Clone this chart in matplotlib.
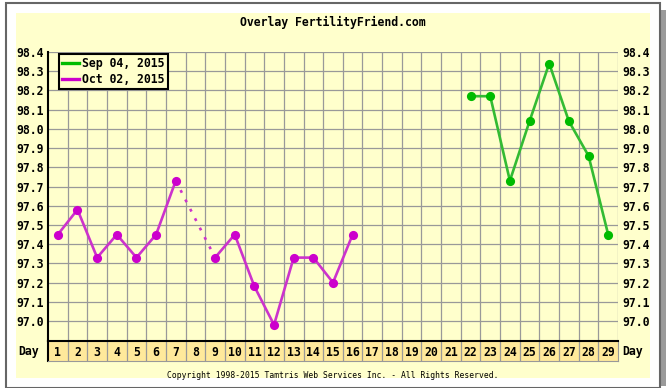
import numpy as np
import matplotlib
matplotlib.use("Agg")
import matplotlib.pyplot as plt
from matplotlib.lines import Line2D
from matplotlib.patches import Rectangle

days = list(range(1, 30))
sep04_days = [22, 23, 24, 25, 26, 27, 28, 29]
sep04_temps = [98.17, 98.17, 97.73, 98.04, 98.34, 98.04, 97.86, 97.45]
oct02_days = [1, 2, 3, 4, 5, 6, 7, 8, 9, 10, 11, 12, 13, 14, 15, 16]
oct02_temps = [97.45, 97.58, 97.33, 97.45, 97.33, 97.45, 97.73, np.nan, 97.33,
               97.45, 97.18, 96.98, 97.33, 97.33, 97.20, 97.45]
y_ticks = [97.0, 97.1, 97.2, 97.3, 97.4, 97.5, 97.6, 97.7, 97.8, 97.9, 98.0, 98.1, 98.2, 98.3, 98.4]
series_labels = ["Sep 04, 2015", "Oct 02, 2015"]
title = "Overlay FertilityFriend.com"
copyright_text = "Copyright 1998-2015 Tamtris Web Services Inc. - All Rights Reserved."

W, H = 667, 388
fig = plt.figure(figsize=(W / 100, H / 100), dpi=100)
fig.patch.set_facecolor("white")

def fx(px):
    return px / W

def fy(py):
    return 1 - py / H

# outer frame and background
fig.patches.append(Rectangle((fx(660), fy(386)), fx(6), fy(10) - fy(386),
                             transform=fig.transFigure, facecolor="#9a9a9a", edgecolor="none", zorder=-3))
fig.patches.append(Rectangle((fx(5.5), fy(388)), fx(660) - fx(5.5), fy(2.5) - fy(388),
                             transform=fig.transFigure, facecolor="white", edgecolor="#666666", lw=1.5, zorder=-2))
fig.patches.append(Rectangle((fx(16), fy(378)), fx(650) - fx(16), fy(13) - fy(378),
                             transform=fig.transFigure, facecolor="#FFFFCC", edgecolor="none", zorder=-1))

MONO = "DejaVu Sans Mono"
FS = 8.3
L, R, T, B = 48, 618, 52, 341
ax = fig.add_axes([fx(L), fy(B), fx(R) - fx(L), fy(T) - fy(B)])
ax.set_zorder(5)
ax.set_facecolor("#FFFFCC")
ax.set_xlim(0.5, 29.5)
ax.set_ylim(96.896, 98.4)
for d in days:
    ax.axvline(d + 0.5, color="#999999", lw=0.9, zorder=1)
for v in y_ticks:
    ax.axhline(v, color="#999999", lw=0.9, zorder=1)
ax.set_xticks([])
ax.set_yticks(y_ticks)
ax.set_yticklabels([f"{v:.1f}" for v in y_ticks], fontfamily=MONO, fontweight="bold", fontsize=FS)
ax.tick_params(axis="y", length=0, pad=3, labelright=True, labelleft=True)
for s in ["top", "right"]:
    ax.spines[s].set_visible(False)
ax.spines["left"].set_color("black")
ax.spines["left"].set_linewidth(1.5)
ax.spines["bottom"].set_color("black")
ax.spines["bottom"].set_linewidth(1.5)

def draw_series(ax, xs, ys, line_color, marker_color):
    xs = np.array(xs, float)
    ys = np.array(ys, float)
    ax.plot(xs, ys, color=line_color, lw=1.9, zorder=3, solid_capstyle="round")
    ok = ~np.isnan(ys)
    idx = np.where(ok)[0]
    for a, b in zip(idx[:-1], idx[1:]):
        if b - a > 1:
            ax.plot([xs[a], xs[b]], [ys[a], ys[b]], color=line_color, lw=1.9,
                    linestyle=(0, (1.1, 2.9)), zorder=3)
    ax.plot(xs[ok], ys[ok], linestyle="none", marker="o", ms=6.6, mew=0,
            color=marker_color, zorder=4)

draw_series(ax, sep04_days, sep04_temps, "#33BB33", "#00BB00")
draw_series(ax, oct02_days, oct02_temps, "#CC33CC", "#CC00CC")

handles = [Line2D([0], [0], color="#00BB00", lw=2.4),
           Line2D([0], [0], color="#CC00CC", lw=2.4)]
leg = ax.legend(handles, series_labels, loc="upper left", bbox_to_anchor=(0.019, 0.993),
                prop={"family": MONO, "weight": "bold", "size": FS},
                frameon=True, fancybox=False, framealpha=1, facecolor="#FFFFCC",
                edgecolor="black", handlelength=1.45, handletextpad=0.25,
                borderpad=0.3, labelspacing=0.2, borderaxespad=0)
leg.get_frame().set_linewidth(1.5)
leg.set_zorder(10)

# day row
dax = fig.add_axes([fx(L), fy(361), fx(R) - fx(L), fy(B) - fy(361)])
dax.set_zorder(4)
dax.set_facecolor("#FFE99B")
dax.set_xlim(0.5, 29.5)
dax.set_ylim(0, 1)
for d in days[:-1]:
    dax.axvline(d + 0.5, color="#999999", lw=0.9)
for d in days:
    dax.text(d, 0.45, str(d), ha="center", va="center", fontfamily=MONO,
             fontweight="bold", fontsize=FS)
dax.set_xticks([])
dax.set_yticks([])
dax.spines["top"].set_visible(False)
dax.spines["left"].set_color("black")
dax.spines["left"].set_linewidth(1.5)
dax.spines["bottom"].set_color("#999999")
dax.spines["right"].set_color("#999999")

fig.text(fx(18), fy(352), "Day", ha="left", va="center", fontfamily=MONO, fontweight="bold", fontsize=FS)
fig.text(fx(622), fy(352), "Day", ha="left", va="center", fontfamily=MONO, fontweight="bold", fontsize=FS)
fig.text(fx(333), fy(22), title, ha="center", va="center", fontfamily=MONO, fontweight="bold", fontsize=FS)
fig.text(fx(333), fy(375), copyright_text, ha="center", va="center", fontfamily=MONO, fontsize=5.8)

fig.savefig("out.png", dpi=100, facecolor="white")
